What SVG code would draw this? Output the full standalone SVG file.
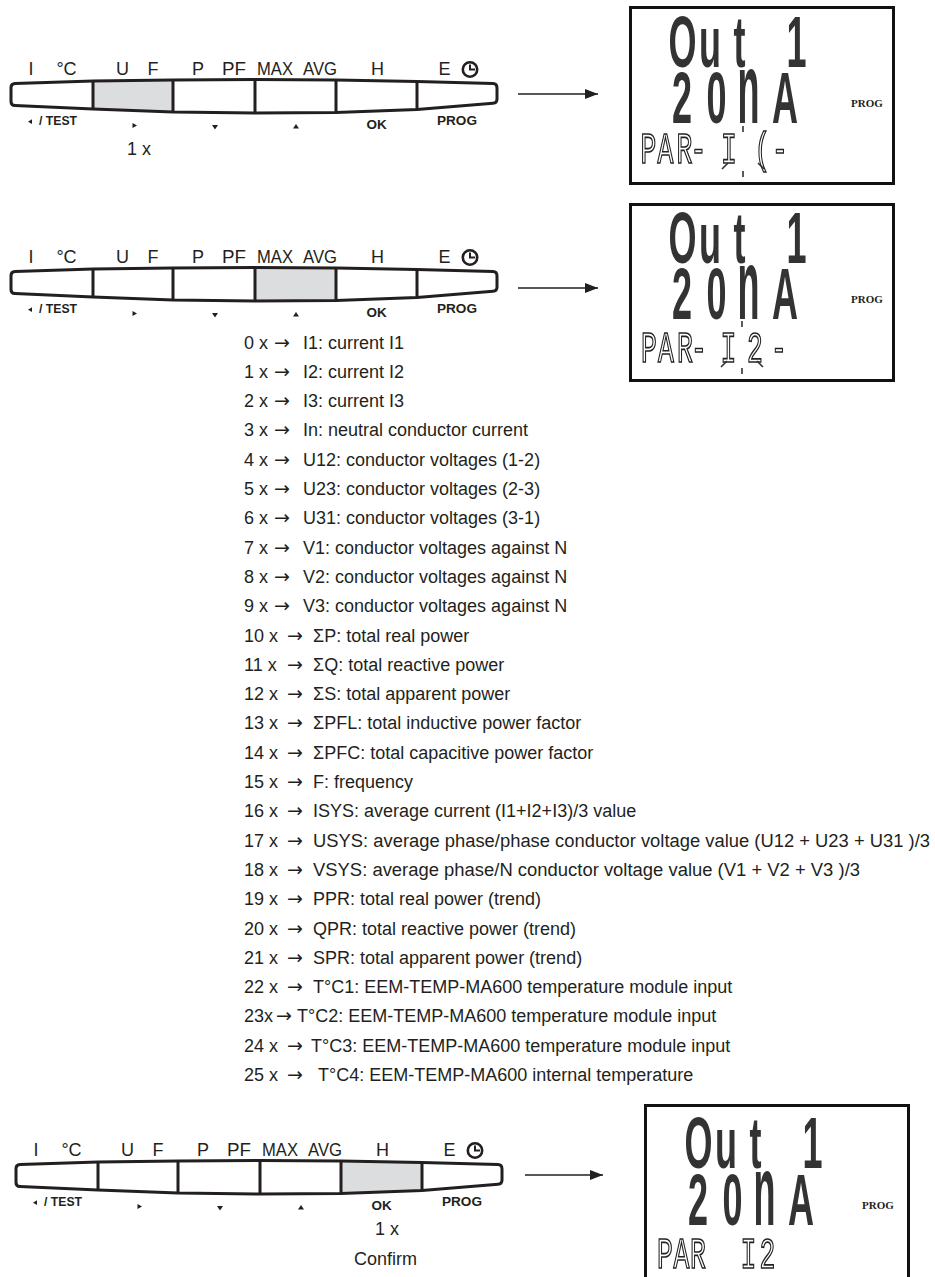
<svg xmlns="http://www.w3.org/2000/svg" width="935" height="1277" viewBox="0 0 935 1277">
<style>
.bg{fill:#fff}
.barout{fill:none;stroke:#231f20;stroke-width:3;stroke-linejoin:round}
.div{fill:none;stroke:#231f20;stroke-width:3}
.hl{fill:#dcdddf;stroke:none}
.lbl{font-family:"Liberation Sans",Arial,sans-serif;font-size:18px;fill:#231f20;text-anchor:middle}
.key{font-family:"Liberation Sans",Arial,sans-serif;font-weight:bold;font-size:13.5px;fill:#231f20}
.tri{fill:#231f20}
.clk{fill:none;stroke:#231f20;stroke-width:2.6}
.clkh{fill:none;stroke:#231f20;stroke-width:2}
.txt{font-family:"Liberation Sans",Arial,sans-serif;font-size:18px;fill:#231f20}
.arw{font-family:"DejaVu Sans","Liberation Sans",sans-serif;font-size:19px;fill:#231f20}
.lcd{fill:#fff;stroke:#111;stroke-width:3}
.seg{font-family:"Liberation Sans",Arial,sans-serif;font-weight:bold;font-size:72px;fill:#333;text-anchor:middle}
.seg14{font-family:"Liberation Mono","DejaVu Sans Mono",monospace;font-size:44px;fill:none;stroke:#222;stroke-width:1.7;text-anchor:middle}
.prog{font-family:"Liberation Serif","Times New Roman",serif;font-weight:bold;font-size:11px;fill:#231f20}
.tick{stroke:#333;stroke-width:1.6;fill:none}
.conn{stroke:#231f20;stroke-width:1.3;fill:none}
</style>
<defs>
<filter id="grey" x="-5%" y="-20%" width="110%" height="140%"><feColorMatrix type="saturate" values="0"/></filter>
<marker id="ah" markerWidth="13" markerHeight="10" refX="13" refY="5" orient="auto" markerUnits="userSpaceOnUse">
<path d="M0,0 L13,5 L0,10 Z" fill="#231f20"/>
</marker>
<g id="bar">
<path class="barout" d="M15,83.6 L93,81 L173,80 L255,79.5 L336,80 L417,81.5 L493,83.6 Q497,83.8 497,88 L497,99 Q497,103 493,103.3 L417,109.5 L336,112.5 L255,113 L173,112 L93,109 L15,105.6 Q11,105.4 11,101.5 L11,87.5 Q11,83.8 15,83.6 Z"/>
<path class="div" d="M93,81V109 M173,80V112 M255,79.5V113 M336,80V112.5 M417,81.5V109.5"/>
<text class="lbl" x="31" y="75">I</text>
<text class="lbl" x="66.5" y="75">°C</text>
<text class="lbl" x="122.5" y="75">U</text>
<text class="lbl" x="153" y="75">F</text>
<text class="lbl" x="198" y="75">P</text>
<text class="lbl" x="234" y="75" textLength="24" lengthAdjust="spacingAndGlyphs">PF</text>
<text class="lbl" x="275" y="75" textLength="36" lengthAdjust="spacingAndGlyphs">MAX</text>
<text class="lbl" x="320" y="75" textLength="34" lengthAdjust="spacingAndGlyphs">AVG</text>
<text class="lbl" x="377.5" y="75">H</text>
<text class="lbl" x="444.5" y="75">E</text>
<circle class="clk" cx="470" cy="69.5" r="7.2"/>
<path class="clkh" d="M470,64.5 V69.5 H475"/>
<polygon class="tri" points="28,121.7 32,119.3 32,124.1"/>
<text class="key" x="39" y="125" textLength="38" lengthAdjust="spacingAndGlyphs">/ TEST</text>
<polygon class="tri" points="132.5,123 137,125.5 132.5,128"/>
<polygon class="tri" points="212,125 218,125 215,129.5"/>
<polygon class="tri" points="293,128.5 299,128.5 296,124"/>
<text class="key" x="376.5" y="129" text-anchor="middle">OK</text>
<text class="key" x="457" y="125" text-anchor="middle" textLength="40" lengthAdjust="spacingAndGlyphs">PROG</text>
</g>
</defs>
<rect class="bg" x="0" y="0" width="935" height="1277"/>

<g id="keypad-1">
<polygon class="hl" points="93,81 173,80 173,112 93,109"/>
<use href="#bar"/>
<text class="txt" x="127" y="155">1 x</text>
</g>

<g id="keypad-2" transform="translate(0,188)">
<polygon class="hl" points="255,79.5 336,80 336,112.5 255,113"/>
<use href="#bar"/>
</g>

<g id="keypad-3" transform="translate(5,1081)">
<polygon class="hl" points="336,80 417,81.5 417,109.5 336,112.5"/>
<use href="#bar"/>
</g>
<g id="keypad-3-notes">
<text class="txt" x="375" y="1235">1 x</text>
<text class="txt" x="354" y="1265">Confirm</text>
</g>

<g id="display-1">
<rect class="lcd" x="630.5" y="7.5" width="263" height="176"/>
<text class="seg" transform="translate(0,67) scale(0.5,1)" x="1365 1420 1479 1540 1593" y="0">Out 1</text>
<text class="seg" transform="translate(0,123) scale(0.5,1)" x="1364 1433" y="0">20</text>
<text class="seg" transform="translate(748.5,123) scale(0.5,1.4)" x="0" y="0">n</text>
<text class="seg" transform="translate(0,123) scale(0.5,1)" x="1570" y="0">A</text>
<text class="prog" x="851" y="107">PROG</text>
<g filter="url(#grey)">
<text class="seg14" transform="translate(0,163) scale(0.6,1)" x="1080.8 1109.2 1140.8 1164.2 1215 1270.8 1300" y="0">PAR-I(-</text>
</g>
<path class="tick" d="M743,126V132 M743,171V177 M722,169L728,163 M758,163L764,169"/>
</g>

<g id="display-2">
<rect class="lcd" x="630.5" y="204.5" width="263" height="176"/>
<text class="seg" transform="translate(0,263) scale(0.5,1)" x="1365 1420 1479 1540 1593" y="0">Out 1</text>
<text class="seg" transform="translate(0,319) scale(0.5,1)" x="1364 1433" y="0">20</text>
<text class="seg" transform="translate(748.5,319) scale(0.5,1.4)" x="0" y="0">n</text>
<text class="seg" transform="translate(0,319) scale(0.5,1)" x="1570" y="0">A</text>
<text class="prog" x="851" y="303">PROG</text>
<g filter="url(#grey)">
<text class="seg14" transform="translate(0,362) scale(0.6,1)" x="1081.7 1110 1141.7 1165 1214.2 1258.3 1298.3" y="0">PAR-I2-</text>
</g>
<path class="tick" d="M742,321V327 M742,368V374 M721,367L727,361 M757,361L763,367"/>
</g>

<g id="display-3">
<rect class="lcd" x="645.5" y="1105.5" width="263" height="180"/>
<text class="seg" transform="translate(0,1168) scale(0.5,1)" x="1397 1452 1511 1572 1625" y="0">Out 1</text>
<text class="seg" transform="translate(0,1225) scale(0.5,1)" x="1396 1465" y="0">20</text>
<text class="seg" transform="translate(764.5,1225) scale(0.5,1.4)" x="0" y="0">n</text>
<text class="seg" transform="translate(0,1225) scale(0.5,1)" x="1602" y="0">A</text>
<text class="prog" x="862" y="1209">PROG</text>
<g filter="url(#grey)">
<text class="seg14" transform="translate(0,1268) scale(0.6,1)" x="1108.3 1135.8 1163.3 1200 1247.5 1279.2" y="0">PAR I2</text>
</g>
</g>

<g id="parameter-list">
<text class="txt" y="348.5"><tspan x="244">0 x</tspan><tspan class="arw" x="274">→</tspan><tspan x="303">I1: current I1</tspan></text>
<text class="txt" y="377.8"><tspan x="244">1 x</tspan><tspan class="arw" x="274">→</tspan><tspan x="303">I2: current I2</tspan></text>
<text class="txt" y="407.1"><tspan x="244">2 x</tspan><tspan class="arw" x="274">→</tspan><tspan x="303">I3: current I3</tspan></text>
<text class="txt" y="436.4"><tspan x="244">3 x</tspan><tspan class="arw" x="274">→</tspan><tspan x="303">In: neutral conductor current</tspan></text>
<text class="txt" y="465.7"><tspan x="244">4 x</tspan><tspan class="arw" x="274">→</tspan><tspan x="303">U12: conductor voltages (1-2)</tspan></text>
<text class="txt" y="495"><tspan x="244">5 x</tspan><tspan class="arw" x="274">→</tspan><tspan x="303">U23: conductor voltages (2-3)</tspan></text>
<text class="txt" y="524.3"><tspan x="244">6 x</tspan><tspan class="arw" x="274">→</tspan><tspan x="303">U31: conductor voltages (3-1)</tspan></text>
<text class="txt" y="553.6"><tspan x="244">7 x</tspan><tspan class="arw" x="274">→</tspan><tspan x="303">V1: conductor voltages against N</tspan></text>
<text class="txt" y="582.9"><tspan x="244">8 x</tspan><tspan class="arw" x="274">→</tspan><tspan x="303">V2: conductor voltages against N</tspan></text>
<text class="txt" y="612.2"><tspan x="244">9 x</tspan><tspan class="arw" x="274">→</tspan><tspan x="303">V3: conductor voltages against N</tspan></text>
<text class="txt" y="641.5"><tspan x="244">10 x</tspan><tspan class="arw" x="287">→</tspan><tspan x="313">ΣP: total real power</tspan></text>
<text class="txt" y="670.8"><tspan x="244">11 x</tspan><tspan class="arw" x="287">→</tspan><tspan x="313">ΣQ: total reactive power</tspan></text>
<text class="txt" y="700.1"><tspan x="244">12 x</tspan><tspan class="arw" x="287">→</tspan><tspan x="313">ΣS: total apparent power</tspan></text>
<text class="txt" y="729.4"><tspan x="244">13 x</tspan><tspan class="arw" x="287">→</tspan><tspan x="313">ΣPFL: total inductive power factor</tspan></text>
<text class="txt" y="758.7"><tspan x="244">14 x</tspan><tspan class="arw" x="287">→</tspan><tspan x="313">ΣPFC: total capacitive power factor</tspan></text>
<text class="txt" y="788"><tspan x="244">15 x</tspan><tspan class="arw" x="287">→</tspan><tspan x="313">F: frequency</tspan></text>
<text class="txt" y="817.3"><tspan x="244">16 x</tspan><tspan class="arw" x="287">→</tspan><tspan x="313">ISYS: average current (I1+I2+I3)/3 value</tspan></text>
<text class="txt" y="846.6"><tspan x="244">17 x</tspan><tspan class="arw" x="287">→</tspan><tspan x="313" textLength="617" lengthAdjust="spacingAndGlyphs">USYS: average phase/phase conductor voltage value (U12 + U23 + U31 )/3</tspan></text>
<text class="txt" y="875.9"><tspan x="244">18 x</tspan><tspan class="arw" x="287">→</tspan><tspan x="313" textLength="547" lengthAdjust="spacingAndGlyphs">VSYS: average phase/N conductor voltage value (V1 + V2 + V3 )/3</tspan></text>
<text class="txt" y="905.2"><tspan x="244">19 x</tspan><tspan class="arw" x="287">→</tspan><tspan x="313">PPR: total real power (trend)</tspan></text>
<text class="txt" y="934.5"><tspan x="244">20 x</tspan><tspan class="arw" x="287">→</tspan><tspan x="313">QPR: total reactive power (trend)</tspan></text>
<text class="txt" y="963.8"><tspan x="244">21 x</tspan><tspan class="arw" x="287">→</tspan><tspan x="313">SPR: total apparent power (trend)</tspan></text>
<text class="txt" y="993.1"><tspan x="244">22 x</tspan><tspan class="arw" x="287">→</tspan><tspan x="313">T°C1: EEM-TEMP-MA600 temperature module input</tspan></text>
<text class="txt" y="1022.4"><tspan x="244">23x</tspan><tspan class="arw" x="276">→</tspan><tspan x="297">T°C2: EEM-TEMP-MA600 temperature module input</tspan></text>
<text class="txt" y="1051.7"><tspan x="244">24 x</tspan><tspan class="arw" x="287">→</tspan><tspan x="311">T°C3: EEM-TEMP-MA600 temperature module input</tspan></text>
<text class="txt" y="1081"><tspan x="244">25 x</tspan><tspan class="arw" x="287">→</tspan><tspan x="318">T°C4: EEM-TEMP-MA600 internal temperature</tspan></text>
</g>

<g id="connectors">
<line class="conn" x1="518" y1="94" x2="598" y2="94" marker-end="url(#ah)"/>
<line class="conn" x1="518" y1="288" x2="598" y2="288" marker-end="url(#ah)"/>
<line class="conn" x1="525" y1="1175" x2="603" y2="1175" marker-end="url(#ah)"/>
</g>
</svg>
